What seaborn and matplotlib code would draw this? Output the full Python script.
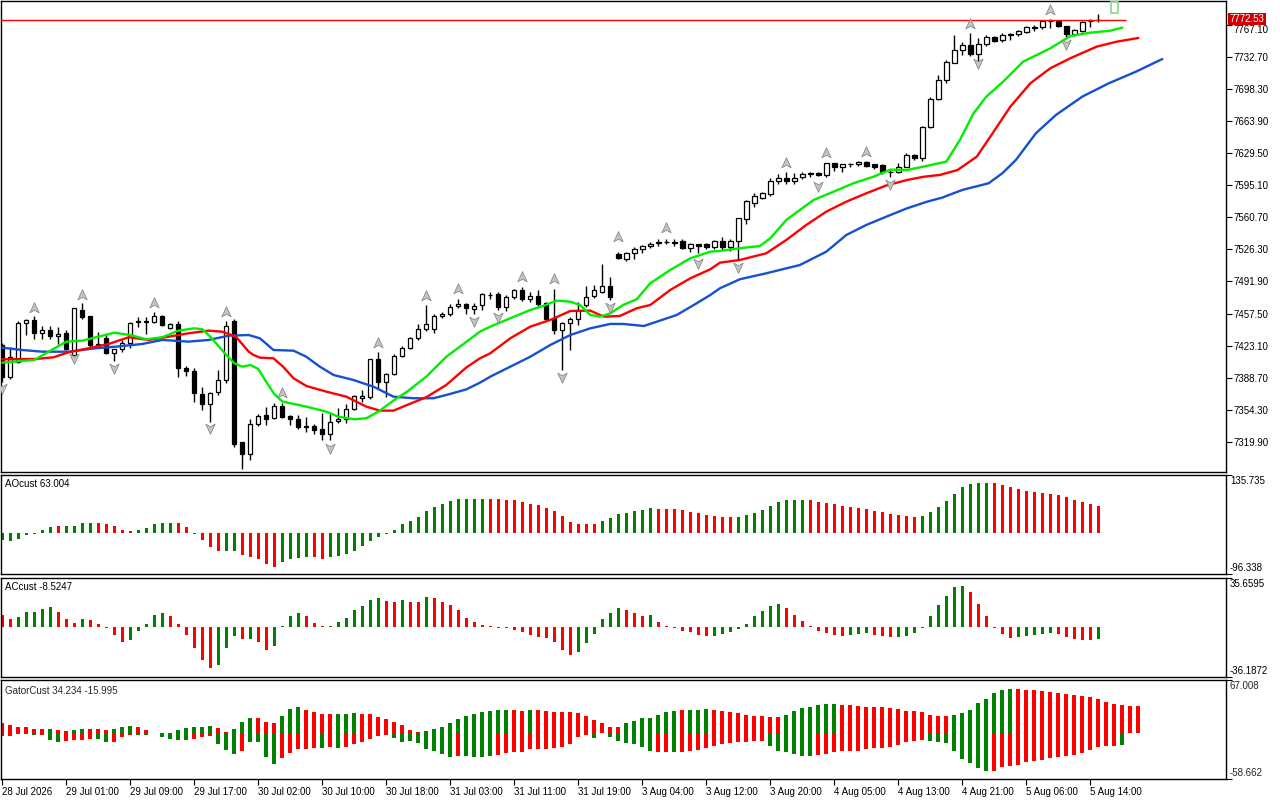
import matplotlib
matplotlib.use("Agg")
import matplotlib.pyplot as plt
import seaborn as sns
import pandas as pd
import numpy as np
from matplotlib.path import Path
from matplotlib.patches import Rectangle

sns.set_style("white")
plt.rcParams['font.family'] = ['Liberation Sans', 'DejaVu Sans']

# ---------------- data ----------------
OPEN = [7423.5, 7389, 7405.5, 7446.8, 7451, 7437, 7439.6, 7433, 7436.7, 7412.7,
        7461.8, 7454.6, 7424, 7430.7, 7415.6, 7419.9, 7425.3, 7448.5, 7449, 7448.5,
        7454.6, 7442, 7446, 7398.5, 7396, 7371.6, 7360.8, 7373.7, 7386.6, 7449.6,
        7319, 7307, 7339, 7348.2, 7345, 7358, 7347, 7343.7, 7336.5, 7337,
        7333, 7328.6, 7341.7, 7344, 7354.7, 7367.3, 7368, 7408.4, 7384, 7392.3,
        7412, 7420.6, 7430.7, 7441.4, 7440.7, 7454.6, 7457.5, 7465.3, 7467.5, 7462,
        7466.4, 7477, 7478.2, 7464, 7475.4, 7482.5, 7473.6, 7476, 7468.6, 7453,
        7439.6, 7446.8, 7452, 7466.4, 7476, 7481, 7486.8, 7521, 7516, 7522,
        7526.3, 7529.8, 7533.5, 7534.2, 7534, 7535.4, 7528.3, 7532, 7532, 7529,
        7535, 7529, 7535, 7558.6, 7576.7, 7582, 7585.6, 7600, 7602.5, 7600,
        7604, 7607.6, 7608.6, 7606, 7618.6, 7615, 7617.6, 7617.6, 7619.7, 7617.9,
        7616.8, 7609.6, 7609.6, 7615, 7627.5, 7624, 7657.3, 7687.7, 7708, 7727,
        7740.3, 7745.7, 7735.7, 7746.7, 7754.2, 7751, 7756.4, 7757.2, 7760, 7764.5,
        7764.8, 7771.8, 7771.8, 7766, 7757.2, 7761, 7771.5, 7772.5]
HIGH = [7426, 7421, 7449.6, 7452, 7455, 7444, 7444, 7443, 7439.6, 7463.4,
        7468.3, 7455, 7437.8, 7436, 7419.5, 7428.8, 7448.5, 7453.9, 7454, 7459,
        7455.7, 7447.3, 7449, 7401, 7399, 7379, 7373, 7396.6, 7449.6, 7452,
        7320, 7344.7, 7349.4, 7357, 7361, 7361, 7348, 7348, 7346.5, 7338.5,
        7350.8, 7351.8, 7356.5, 7360, 7370.5, 7375, 7409, 7416.5, 7394, 7413.8,
        7423, 7432.7, 7446, 7466.4, 7457.5, 7459.4, 7467.5, 7473.6, 7469, 7468.6,
        7479.6, 7480.7, 7480.7, 7477, 7484, 7486, 7480.7, 7482.5, 7470, 7484,
        7448, 7453.9, 7470, 7486.8, 7488, 7510.5, 7496.2, 7524, 7523.5, 7528.5,
        7531, 7534.5, 7537, 7538, 7537, 7537, 7533.3, 7532.5, 7533, 7536.6,
        7540, 7537, 7560, 7579, 7586.4, 7588, 7602.5, 7607, 7609.6, 7608,
        7609, 7609.6, 7610, 7619.3, 7619.3, 7618.5, 7619.3, 7621.4, 7621.4, 7618.5,
        7618, 7612, 7619.3, 7630, 7628.5, 7658.7, 7689.5, 7713.4, 7729.6, 7756.4,
        7749.2, 7758.2, 7752.9, 7756.4, 7755.4, 7758.2, 7758.2, 7762, 7766, 7767,
        7772.5, 7773.3, 7773, 7766.5, 7762.5, 7771.8, 7773.3, 7779]
LOW = [7384, 7387, 7404, 7434, 7429.6, 7429.6, 7430, 7425, 7418, 7411,
       7452, 7421.6, 7420, 7414, 7407, 7416.3, 7420, 7443, 7436, 7447,
       7444, 7441, 7389, 7390, 7362, 7354, 7341, 7369.8, 7383, 7314,
       7291, 7300, 7337, 7337.5, 7344, 7345, 7338, 7333, 7330, 7328,
       7321.4, 7321.4, 7340, 7340, 7353.6, 7362.6, 7366, 7378, 7368, 7391,
       7411, 7419, 7429, 7438.8, 7437, 7453, 7454.6, 7463, 7457.5, 7457.5,
       7461.8, 7473.6, 7461, 7460, 7473, 7471, 7470, 7466, 7450, 7436,
       7396.5, 7418, 7445, 7464.6, 7474, 7479, 7472, 7516, 7514, 7516,
       7523, 7528, 7529.8, 7532, 7530, 7527, 7523.5, 7522, 7527, 7527,
       7525.4, 7525, 7514.7, 7554, 7572, 7581, 7583.5, 7597, 7597, 7597,
       7602, 7604, 7605, 7604, 7610.6, 7609.6, 7615, 7616, 7615, 7613,
       7607, 7604, 7608, 7614.3, 7622, 7621.4, 7656.2, 7686.6, 7705.2, 7726,
       7734.9, 7734, 7728, 7745, 7749, 7749.2, 7751, 7756, 7758.9, 7761,
       7763, 7763.6, 7765, 7754.6, 7756, 7760, 7765, 7771]
CLOSE = [7389, 7410.7, 7446.8, 7451, 7437, 7439.6, 7433.5, 7436, 7419.9, 7462.9,
         7453.9, 7423.5, 7425, 7415.2, 7418.9, 7425.3, 7447.4, 7449, 7448, 7454.6,
         7445, 7445.7, 7398.5, 7396, 7372, 7360.8, 7372.6, 7386.6, 7443.8, 7317.9,
         7307, 7338.6, 7347.2, 7344.7, 7358, 7346.5, 7343.7, 7335.7, 7336, 7332.7,
         7327.8, 7341, 7344, 7354.7, 7368.7, 7368.7, 7408.4, 7384, 7393, 7412,
         7420.6, 7430.7, 7441.4, 7445.7, 7454.6, 7457.5, 7464, 7467.5, 7462.9, 7466,
         7478.2, 7477.5, 7464, 7475.4, 7482.5, 7473.6, 7476, 7468, 7452, 7439.6,
         7446.8, 7452, 7461, 7474.7, 7482.5, 7486.8, 7474.7, 7517.5, 7522, 7526.3,
         7529.8, 7532.6, 7534, 7534.5, 7533.5, 7528.3, 7532, 7529.8, 7529, 7535,
         7529, 7535, 7559.6, 7578, 7583.5, 7586.4, 7599.9, 7602.5, 7600, 7602.5,
         7607.6, 7608, 7606, 7618.6, 7614.3, 7617.6, 7617.8, 7619.7, 7616.3, 7615,
         7609.6, 7610, 7615, 7627.5, 7624, 7658, 7687.7, 7708.8, 7727.7, 7740.3,
         7745.7, 7735.7, 7746.7, 7754.2, 7750.5, 7757, 7757.5, 7760.7, 7764.7, 7764.8,
         7771.8, 7771.8, 7766, 7757.2, 7761.8, 7770.7, 7771.8, 7772.53]

# Alligator lines (bar index, price)
LIPS = [(0, 7404.7), (4, 7407.6), (8, 7427.3), (10, 7428.3), (12, 7432.6), (14, 7436.9),
        (16, 7434.4), (18, 7429.8), (20, 7432.0), (22, 7439.1), (24, 7441.6), (25, 7440.6),
        (26, 7432.6), (28, 7413.0), (29, 7404.1), (30, 7400.4), (31, 7402.2), (32, 7398.0),
        (33, 7384.0), (34, 7371.0), (35, 7363.0), (38, 7357.5), (40.5, 7352.1), (42, 7346.7),
        (44, 7343.9), (45.5, 7345.0), (47, 7352.1), (49, 7364.6), (50.6, 7373.6), (53, 7389.7),
        (55.5, 7411.1), (57.2, 7421.9), (59.7, 7438.0), (61, 7443.4), (63.5, 7452.4), (66, 7461.3),
        (67.6, 7465.6), (69.3, 7471.3), (71, 7470.2), (72.2, 7466.7), (73.5, 7456.0), (74.7, 7454.1),
        (76, 7457.7), (77.6, 7466.7), (79.3, 7472.8), (81, 7490.0), (83.5, 7504.3), (86, 7516.8),
        (88.5, 7523.9), (89.7, 7524.7), (92.2, 7527.6), (94.7, 7530.0), (96, 7538.3), (98, 7558.0),
        (99.7, 7568.7), (101.4, 7579.4), (103.9, 7588.3), (106.4, 7597.4), (108.9, 7604.4),
        (111, 7612.0), (113.1, 7611.6), (115.1, 7615.2), (118, 7620.6), (119.7, 7643.9),
        (121.4, 7672.5), (123, 7690.4), (125.1, 7706.5), (127.6, 7727.9), (131, 7742.3),
        (133.5, 7755.5), (136, 7759.1), (138.5, 7761.2), (140, 7764.5)]
TEETH = [(0, 7408.3), (4.2, 7408.7), (6.4, 7410.5), (8.3, 7415.9), (10.8, 7420.2), (13.3, 7424.8),
         (15.8, 7432.0), (18.3, 7429.1), (20.8, 7432.6), (23.3, 7436.3), (25.8, 7439.1), (27.5, 7438.0),
         (29.2, 7432.6), (30.8, 7416.5), (31.4, 7413.0), (32.2, 7410.1), (33.9, 7409.4), (35.1, 7400.4),
         (36.4, 7388.0), (38, 7379.7), (40.5, 7373.6), (43, 7368.2), (45.5, 7357.5), (47.2, 7353.2),
         (48.9, 7353.2), (50.6, 7359.3), (53, 7367.6), (55.5, 7380.8), (58, 7399.5), (59.7, 7409.4),
         (61, 7414.8), (63.5, 7430.9), (66, 7443.4), (68.5, 7450.6), (71, 7460.2), (73.5, 7460.6),
         (75.2, 7454.1), (77.2, 7454.9), (79.3, 7463.1), (81, 7466.7), (83.5, 7482.8), (86, 7495.3),
         (88.5, 7505.0), (89.7, 7512.1), (92.2, 7515.0), (95.5, 7522.2), (98, 7536.5), (100.5, 7552.6),
         (103, 7566.9), (105.5, 7577.6), (108, 7586.6), (110.5, 7595.0), (113.1, 7600.9),
         (115.2, 7604.4), (117.2, 7606.3), (119.4, 7611.6), (121.8, 7625.9), (123.5, 7647.4),
         (126, 7679.6), (128.5, 7704.7), (131, 7720.9), (133.5, 7731.6), (136.8, 7744.1),
         (139.3, 7749.4), (142, 7753.4)]
JAW = [(0, 7420.8), (2.5, 7418.3), (5, 7416.5), (8.3, 7416.5), (11.7, 7420.2), (14.2, 7421.9),
       (17.5, 7424.8), (20, 7429.1), (23.3, 7427.3), (25.8, 7429.1), (28.3, 7433.7), (30.8, 7434.4),
       (32.2, 7430.9), (33.9, 7418.3), (36.4, 7417.6), (38, 7411.1), (39.7, 7400.4), (41.4, 7391.5),
       (43.9, 7386.1), (46.4, 7378.9), (48.9, 7368.2), (51.4, 7366.5), (53.9, 7366.5), (55.5, 7370.0),
       (58, 7376.0), (59.7, 7383.2), (61, 7389.7), (63.5, 7400.4), (66, 7411.1), (68.5, 7423.7),
       (71, 7434.4), (73.5, 7441.6), (76, 7446.3), (77.6, 7446.3), (80.2, 7444.1), (81.8, 7448.7),
       (84.3, 7455.9), (86.8, 7468.5), (88.5, 7477.4), (89.7, 7484.6), (92.2, 7494.3), (95.5, 7500.7),
       (99.7, 7509.6), (103, 7523.9), (105.5, 7541.8), (108, 7552.6), (110.5, 7561.5), (113.1, 7570.5),
       (115.6, 7577.6), (117.5, 7582.0), (120, 7590.2), (123.3, 7597.4), (125, 7608.1), (126.7, 7622.4),
       (129.2, 7651.1), (131.7, 7670.7), (135, 7690.4), (138.3, 7704.7), (141.7, 7717.2), (145, 7730.8)]

FRACTAL_UP_BARS = [4, 10, 19, 28, 35, 47, 53, 57, 65, 69, 77, 83, 98, 103, 108, 121, 131]
FRACTAL_UP_PRICE = [7463.1, 7477.4, 7469.1, 7459.5, 7371.8, 7426.2, 7476.3, 7483.5, 7497.1,
                    7494.6, 7540.0, 7549.0, 7619.5, 7629.6, 7631.3, 7768.4, 7783.5]
FRACTAL_DN_BARS = [0, 9, 14, 26, 41, 59, 62, 70, 76, 87, 92, 102, 111, 122, 133]
FRACTAL_DN_PRICE = [7377.2, 7409.4, 7398.7, 7334.3, 7312.8, 7449.5, 7454.1, 7389.7, 7464.2,
                    7512.1, 7507.8, 7594.5, 7596.3, 7726.2, 7746.6]

LAST_PRICE = 7772.53
PRICE_TICKS = [7767.10, 7732.70, 7698.30, 7663.90, 7629.50, 7595.10, 7560.70, 7526.30,
               7491.90, 7457.50, 7423.10, 7388.70, 7354.30, 7319.90]

AO = [-17.7, -19.3, -13.7, -4.0, -1.6, 6.4, 14.5, 16.9, 16.9, 16.9,
      24.2, 24.2, 24.2, 21.0, 16.9, 7.3, 4.0, 7.3, 12.1, 20.2,
      24.2, 24.2, 22.6, 14.5, -1.6, -16.1, -33.9, -43.5, -43.5, -43.5,
      -52.4, -58.0, -62.0, -74.2, -79.8, -68.5, -62.0, -59.6, -58.0, -58.0,
      -60.5, -56.4, -55.6, -50.0, -41.9, -31.4, -19.3, -9.7, -2.4, 6.4,
      20.2, 29.0, 36.3, 50.8, 60.5, 67.7, 75.0, 79.8, 79.8, 79.8,
      79.8, 79.8, 79.0, 77.4, 76.6, 73.3, 67.7, 65.3, 58.0, 50.8,
      39.5, 26.6, 20.2, 20.2, 20.2, 29.0, 34.7, 44.3, 45.9, 50.8,
      53.2, 58.0, 55.6, 55.6, 55.6, 53.2, 48.4, 45.9, 41.1, 38.7,
      36.3, 36.3, 36.3, 41.1, 45.9, 53.2, 62.9, 72.5, 77.4, 77.4,
      77.4, 77.4, 72.5, 69.3, 67.7, 62.9, 60.5, 58.0, 55.6, 50.8,
      48.4, 43.5, 41.1, 38.7, 36.3, 38.7, 48.4, 60.5, 75.0, 91.9,
      108.8, 115.3, 118.5, 118.5, 118.5, 112.0, 107.2, 104.0, 99.1, 95.9,
      94.3, 91.1, 89.5, 85.4, 77.4, 71.7, 67.7, 63.0]
AO_COLORS = ("GGGGGGGRGG" "GGRRRRRGGG" "GGRRRRRRGG" "RRRRRGGGGR" "RGGGGGGGGG"
             "GGGGGGGGGG" "GRRRRRRRRR" "RRRRRGGGGG" "GGRRRRRRRR" "RRGGGGGGGG"
             "GRRRRRRRRR" "RRRRRGGGGG" "GGGGRRRRRR" "RRRRRRRR")

AC = [8.5, 5.6, 7.3, 10.9, 10.9, 13.3, 14.5, 10.9, 5.8, 2.9,
      5.8, 4.8, 1.9, -0.5, -6.0, -10.9, -9.7, -2.9, 1.9, 8.5,
      9.9, 8.0, 1.9, -6.0, -15.7, -24.2, -29.8, -27.8, -15.7, -6.8,
      -8.5, -8.7, -10.9, -16.9, -14.0, 0.5, 8.0, 9.9, 8.0, 2.9,
      0.5, 0.5, 3.6, 6.5, 12.1, 15.0, 19.6, 20.8, 18.9, 17.9,
      19.6, 18.2, 18.2, 21.5, 20.8, 17.9, 15.7, 12.3, 6.3, 3.4,
      1.2, 0.5, -0.5, -0.7, -2.2, -3.6, -6.0, -7.3, -8.0, -10.9,
      -16.9, -20.6, -18.2, -11.6, -5.3, 5.8, 9.9, 13.6, 12.3, 10.0,
      8.0, 8.7, 3.6, 0.5, -0.5, -2.9, -3.6, -6.0, -6.8, -6.8,
      -5.3, -3.9, -1.5, 2.4, 7.7, 11.6, 15.0, 16.5, 13.6, 8.5,
      4.1, 0.5, -2.9, -4.6, -6.0, -6.8, -5.8, -5.3, -4.6, -5.6,
      -6.8, -7.5, -7.3, -6.8, -4.4, -0.5, 7.7, 15.7, 22.3, 28.6,
      29.3, 25.2, 16.5, 7.7, -0.5, -5.3, -8.0, -7.3, -6.8, -5.8,
      -5.3, -4.8, -5.3, -7.5, -8.7, -9.4, -9.4, -8.52]
AC_COLORS = ("RRGGGGGRRR" "GRRRRRGGGG" "GRRRRRRGGG" "RGRRGGGGRR" "RGGGGGGGRR"
             "GRRGRRRRRR" "RRRRRRRRRR" "RRGGGGGGRR" "RGRRRRRRRG" "GGGGGGGGRR"
             "RRRRRRGGGR" "RRGGGGGGGG" "GRRRRRRGGG" "GGRRRRRG")

GATOR_UP = [12.2, 9.7, 7.6, 6.8, 4.6, 4.6, 4.6, 3.4, 2.5, 3.4,
            4.6, 4.6, 4.6, 3.4, 4.6, 6.8, 8.4, 6.8, 3.4, 0.0,
            0.0, 0.0, 3.4, 5.9, 7.6, 7.6, 8.4, 5.9, 0.4, 4.6,
            13.1, 18.6, 18.6, 13.9, 11.8, 21.5, 30.0, 32.1, 28.7, 25.7,
            23.6, 23.6, 23.6, 23.6, 24.9, 23.6, 23.6, 20.3, 17.7, 13.9,
            9.7, 3.8, 0.4, 1.7, 4.6, 6.8, 12.2, 17.3, 20.7, 23.6,
            25.7, 27.0, 28.7, 28.7, 28.7, 27.8, 28.7, 28.7, 27.8, 26.6,
            26.6, 26.6, 24.9, 20.7, 16.5, 11.8, 6.8, 6.8, 11.8, 15.2,
            18.6, 18.6, 22.8, 25.7, 27.8, 28.7, 28.7, 28.7, 30.0, 28.7,
            27.0, 26.2, 24.5, 22.8, 21.5, 21.1, 19.4, 19.4, 22.8, 27.0,
            31.2, 32.9, 35.4, 36.3, 36.3, 35.4, 35.4, 34.2, 32.9, 32.9,
            32.9, 31.2, 30.0, 27.8, 27.0, 25.7, 22.8, 21.1, 21.1, 22.8,
            24.5, 28.7, 37.1, 42.6, 50.2, 54.0, 55.3, 55.3, 54.0, 54.0,
            52.3, 51.9, 49.8, 48.9, 47.7, 46.0, 44.7, 42.6, 39.2, 36.3,
            35.4, 34.2, 34.234]
GATOR_UP_COLORS = ("RRRRRRGRRG" "GRRRGGGRRR" "RRGGGGGRRG" "GGRRRGGGRR" "RRGGGRRRRR"
                   "RRRGGGGGGG" "GGGGRRGRRR" "RRRRRRRRGG" "GGGGGRGGGR" "RRRRRRRRGG"
                   "GGGGGRRRRR" "RRRRRRRRRG" "GGGGGGGRRR" "RRRRRRRRRR" "RRR")
GATOR_DN = [-4.6, -3.8, -1.7, -1.7, -2.5, -2.5, -8.9, -11.4, -10.1, -9.3,
            -8.9, -8.0, -8.0, -12.2, -11.4, -5.1, -2.5, -2.5, -2.5, -0.8,
            -5.1, -8.0, -8.9, -8.9, -8.0, -5.9, -3.8, -14.3, -21.9, -27.0,
            -22.8, -11.4, -11.4, -30.4, -39.7, -32.1, -25.7, -20.7, -20.7, -19.4,
            -19.4, -18.6, -19.4, -17.7, -14.3, -11.4, -8.0, -3.8, -3.0, -6.8,
            -12.2, -11.0, -13.5, -20.7, -22.8, -27.0, -30.4, -29.1, -29.1, -30.4,
            -30.4, -29.1, -28.3, -25.7, -24.9, -24.0, -20.7, -20.7, -20.7, -19.8,
            -18.6, -14.3, -5.9, -3.0, -6.8, 0.0, -5.9, -10.5, -13.5, -14.3,
            -17.7, -23.6, -24.0, -24.0, -24.0, -24.0, -22.8, -21.9, -19.4, -16.5,
            -14.3, -12.7, -12.2, -11.4, -10.5, -10.5, -16.5, -22.8, -24.9, -27.0,
            -29.1, -29.1, -28.3, -27.0, -24.9, -22.8, -22.8, -22.8, -20.7, -19.4,
            -19.0, -17.7, -15.2, -12.2, -10.1, -9.3, -10.1, -11.4, -13.1, -22.8,
            -33.3, -38.8, -45.1, -48.1, -48.1, -43.9, -41.8, -40.5, -37.5, -35.4,
            -34.2, -32.5, -31.2, -29.1, -27.8, -25.7, -21.9, -17.7, -16.5, -16.5,
            -15.995]
GATOR_DN_COLORS = ("RRRRGRGGRR" "RRGGRRRGGR" "GGGGRRRGGG" "RGGGGRRRRR" "GRGRRRRRRG"
                   "GGGGGGGRGG" "GGRRRRRRRR" "RRRRGRGGGG" "GGRRGRRRRR" "RRRRRRGGGG"
                   "GGRRRRRRRR" "RRRRRRGGGG" "GGGGRRRRRR" "RRRRRRRRRR" "G")

TIME_LABELS = ["28 Jul 2026", "29 Jul 01:00", "29 Jul 09:00", "29 Jul 17:00", "30 Jul 02:00",
               "30 Jul 10:00", "30 Jul 18:00", "31 Jul 03:00", "31 Jul 11:00", "31 Jul 19:00",
               "3 Aug 04:00", "3 Aug 12:00", "3 Aug 20:00", "4 Aug 05:00", "4 Aug 13:00",
               "4 Aug 21:00", "5 Aug 06:00", "5 Aug 14:00"]
TIME_LABEL_BARS = [0, 8, 16, 24, 32, 40, 48, 56, 64, 72, 80, 88, 96, 104, 112, 120, 128, 136]

AO_RANGE = (-96.338, 135.735)
AC_RANGE = (-36.1872, 35.6595)
GATOR_RANGE = (-58.662, 67.008)

# ---------------- figure ----------------
GREEN = '#008000'
RED = '#ff0000'
cmap = {'G': GREEN, 'R': RED}

W, H = 1280, 800
fig = plt.figure(figsize=(12.8, 8), dpi=100)


def px_axes(top, bottom):
    return fig.add_axes([1 / W, 1 - bottom / H, 1225 / W, (bottom - top) / H])


ax = px_axes(1, 472)
ax_ao = px_axes(475.3, 573.7)
ax_ac = px_axes(577.7, 676.7)
ax_g = px_axes(679.7, 779)

XLIM = (-0.16, 152.96)
FS = 7

for a in (ax, ax_ao, ax_ac, ax_g):
    a.set_xlim(*XLIM)
    a.set_facecolor('white')
    for s in a.spines.values():
        s.set_color('black')
        s.set_linewidth(1)
    a.yaxis.tick_right()
    a.tick_params(axis='y', direction='out', length=4, width=0.8, pad=1.5,
                  labelsize=FS, colors='black', right=True, left=False)
    a.tick_params(axis='x', bottom=False, labelbottom=False)
    a.grid(False)

# ---- candles ----
n = len(OPEN)
xs = np.arange(n)
o = np.array(OPEN); h = np.array(HIGH); l = np.array(LOW); c = np.array(CLOSE)
ax.vlines(xs, l, h, color='black', lw=1, zorder=2)
bull = c >= o
body_bottom = np.minimum(o, c)
body_h = np.maximum(np.abs(c - o), 0.25)
ax.bar(xs[bull], body_h[bull], bottom=body_bottom[bull], width=0.55,
       facecolor='white', edgecolor='black', linewidth=0.9, zorder=3)
ax.bar(xs[~bull], body_h[~bull], bottom=body_bottom[~bull], width=0.55,
       facecolor='black', edgecolor='black', linewidth=0.9, zorder=3)

# ---- alligator lines ----
for data, col in ((JAW, '#1450d2'), (TEETH, '#ff0000'), (LIPS, '#00ee00')):
    df = pd.DataFrame(data, columns=['bar', 'price'])
    sns.lineplot(data=df, x='bar', y='price', ax=ax, color=col, linewidth=1.7,
                 estimator=None, sort=False, zorder=4)

# ---- fractals ----
up_verts = [(0, 1), (0.8, -0.75), (0, -0.3), (-0.8, -0.75), (0, 1)]
codes = [Path.MOVETO, Path.LINETO, Path.LINETO, Path.LINETO, Path.CLOSEPOLY]
up_marker = Path(up_verts, codes)
dn_marker = Path([(x, -y) for x, y in up_verts], codes)
ax.scatter(FRACTAL_UP_BARS, FRACTAL_UP_PRICE, marker=up_marker, s=70,
           c='#c4c4c4', edgecolors='#8a8a8a', linewidths=0.6, zorder=6)
ax.scatter(FRACTAL_DN_BARS, FRACTAL_DN_PRICE, marker=dn_marker, s=70,
           c='#c4c4c4', edgecolors='#8a8a8a', linewidths=0.6, zorder=6)

# ---- last price line / label ----
ax.hlines(LAST_PRICE, XLIM[0], 140.5, color='#ff0000', lw=1, zorder=3)
ax.add_patch(Rectangle((139 - 0.45, 7780.5), 0.9, 12.0, facecolor='white',
                       edgecolor='#8fdc8f', lw=1.3, zorder=5, clip_on=True))

ax.set_ylim(7287.3, 7793.1)
ax.set_yticks(PRICE_TICKS)
ax.set_yticklabels([f"{v:.2f}" for v in PRICE_TICKS])
# the top tick label sits just under the red last-price tag
top_lbl = ax.get_yticklabels()[0]
top_lbl.set_va('top')
ax.set_xlabel(''); ax.set_ylabel('')
ax.annotate(f"{LAST_PRICE:.2f}", xy=(1.0, LAST_PRICE + 1.5), xycoords=('axes fraction', 'data'),
            xytext=(2.5, 0), textcoords='offset points', ha='left', va='center',
            fontsize=FS, color='white', zorder=10, annotation_clip=False,
            bbox=dict(boxstyle='square,pad=0.12', fc='#cc0000', ec='none'))


# ---- indicator panels ----
def panel(a, vals, colors, rng, title, width=0.42):
    xv = np.arange(len(vals))
    a.bar(xv, vals, width=width, color=[cmap[k] for k in colors], linewidth=0)
    a.set_ylim(*rng)
    a.set_yticks(list(rng))
    a.set_yticklabels(['', ''])
    a.text(1.0 + 4 / 1225, 1.0 - 1 / 99, f"{rng[1]:g}", transform=a.transAxes, ha='left',
           va='top', fontsize=FS, color='black')
    a.text(1.0 + 4 / 1225, 0.0 + 1 / 99, f"{rng[0]:g}", transform=a.transAxes, ha='left',
           va='bottom', fontsize=FS, color='black')
    a.text(4 / 1225, 1 - 9 / 99, title, transform=a.transAxes, ha='left', va='center',
           fontsize=FS, color='black')


panel(ax_ao, AO, AO_COLORS, AO_RANGE, f"AOcust {63.004:.3f}")
panel(ax_ac, AC, AC_COLORS, AC_RANGE, "ACcust -8.5247")
xg_up = np.arange(len(GATOR_UP))
xg_dn = np.arange(len(GATOR_DN))
ax_g.bar(xg_up, GATOR_UP, width=0.46, color=[cmap[k] for k in GATOR_UP_COLORS], linewidth=0)
ax_g.bar(xg_dn, GATOR_DN, width=0.46, color=[cmap[k] for k in GATOR_DN_COLORS], linewidth=0)
ax_g.set_ylim(*GATOR_RANGE)
ax_g.set_yticks(list(GATOR_RANGE))
ax_g.set_yticklabels(['', ''])
ax_g.text(1.0 + 4 / 1225, 1.0 - 1 / 99, "67.008", transform=ax_g.transAxes, ha='left',
          va='top', fontsize=FS)
ax_g.text(1.0 + 4 / 1225, 0.0 + 1 / 99, "-58.662", transform=ax_g.transAxes, ha='left',
          va='bottom', fontsize=FS)
ax_g.text(4 / 1225, 1 - 11 / 99, "GatorCust 34.234 -15.995", transform=ax_g.transAxes,
          ha='left', va='center', fontsize=FS)

ax_g.tick_params(axis='x', bottom=True, labelbottom=True, direction='out', length=4,
                 width=0.8, pad=2, labelsize=FS, colors='black')
ax_g.set_xticks(TIME_LABEL_BARS)
ax_g.set_xticklabels(TIME_LABELS)
for lbl in ax_g.get_xticklabels():
    lbl.set_ha('left')

fig.savefig('out.png', dpi=100, facecolor='white')
